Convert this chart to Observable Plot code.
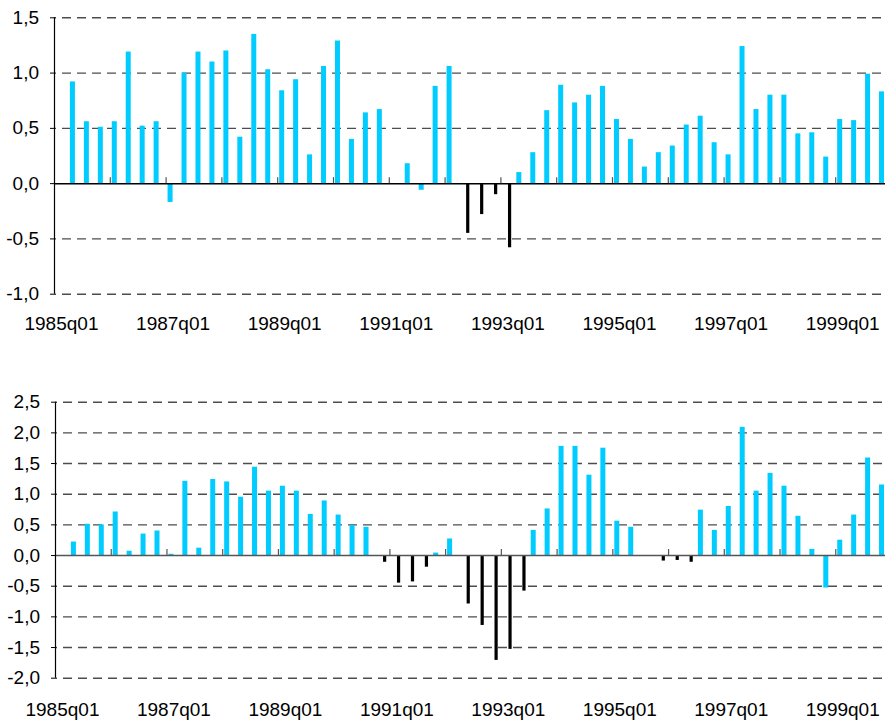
<!DOCTYPE html>
<html>
<head>
<meta charset="utf-8">
<script src="https://cdn.jsdelivr.net/npm/d3@7"></script>
<script src="https://cdn.jsdelivr.net/npm/@observablehq/plot@0.6"></script>
<style>
  html, body { margin: 0; padding: 0; background: #fff; overflow: hidden; width: 885px; height: 720px; }
  .panel { width: 885px; overflow: hidden; }
  .panel svg { display: block; max-width: none !important; }
</style>
</head>
<body>
<div id="top" class="panel"></div>
<div id="bottom" class="panel"></div>
<script>
// ---- categories ----
const years = [1985,1986,1987,1988,1989,1990,1991,1992,1993,1994,1995,1996,1997,1998,1999];
const quarterSuffix = ["q01","q02","q03","q04"];
const quarters = years.flatMap(y => quarterSuffix.map(s => `${y}${s}`));
const labelTicks = ["1985q01","1987q01","1989q01","1991q01","1993q01","1995q01","1997q01","1999q01"];
const boundaryTicks = ["1986q01","1987q01","1988q01","1989q01","1990q01","1991q01","1992q01","1993q01","1994q01","1995q01","1996q01","1997q01","1998q01","1999q01"];

// ---- top panel series ----
const topBlue = [null,0.92,0.56,0.51,0.56,1.19,0.52,0.56,-0.17,1.00,
  1.19,1.10,1.20,0.42,1.35,1.03,0.84,0.94,0.26,1.06,
  1.29,0.40,0.64,0.67,null,0.18,-0.06,0.88,1.06,null,
  null,null,null,0.10,0.28,0.66,0.89,0.73,0.80,0.88,
  0.58,0.40,0.15,0.28,0.34,0.53,0.61,0.37,0.26,1.24,
  0.67,0.80,0.80,0.45,0.46,0.24,0.58,0.57,0.99,0.83];
const topBlack = [null,null,null,null,null,null,null,null,null,null,
  null,null,null,null,null,null,null,null,null,null,
  null,null,null,null,null,null,null,null,null,-0.45,
  -0.28,-0.10,-0.58,null,null,null,null,null,null,null,
  null,null,null,null,null,null,null,null,null,null,
  null,null,null,null,null,null,null,null,null,null];
const topTicks = [-1.0,-0.5,0,0.5,1.0,1.5];

// ---- bottom panel series ----
const botBlue = [null,0.22,0.51,0.50,0.71,0.07,0.35,0.40,0.02,1.21,
  0.12,1.24,1.20,0.95,1.44,1.05,1.13,1.05,0.67,0.89,
  0.66,0.49,0.46,null,null,null,null,0.04,0.27,null,
  null,null,null,null,0.41,0.76,1.78,1.78,1.31,1.75,
  0.56,0.46,null,null,null,null,0.74,0.41,0.80,2.09,
  1.05,1.34,1.13,0.64,0.10,-0.53,0.25,0.66,1.59,1.15];
const botBlack = [null,null,null,null,null,null,null,null,null,null,
  null,null,null,null,null,null,null,null,null,null,
  null,null,null,-0.11,-0.45,-0.43,-0.19,null,null,-0.79,
  -1.14,-1.71,-1.53,-0.58,null,null,null,null,null,null,
  null,null,null,-0.09,-0.08,-0.11,null,null,null,null,
  null,null,null,null,null,null,null,null,null,null];
const botTicks = [-2.0,-1.5,-1.0,-0.5,0,0.5,1.0,1.5,2.0,2.5];

const W = 891;
const FONT = "'Liberation Sans', Arial, Helvetica, sans-serif";
const BLUE = "#00CCFF";

function panel({blue, black, ticks, height, mt, mb, ml, labelPad, zeroColor}) {
  const rows = quarters.map((q, i) => ({q, blue: blue[i], black: black[i]}));
  const blueRows = rows.filter(d => d.blue != null);
  const blackRows = rows.filter(d => d.black != null);
  const bw = (W - ml) / quarters.length;
  const fmt = d => d.toFixed(1).replace(".", ",");
  return Plot.plot({
    width: W,
    height,
    marginTop: mt,
    marginBottom: mb,
    marginLeft: ml,
    marginRight: 0,
    style: {fontFamily: FONT, fontSize: "19px", color: "#000", background: "#fff"},
    x: {type: "band", domain: quarters, padding: 0, axis: null, label: null},
    y: {domain: [ticks[0], ticks[ticks.length - 1]], axis: null, label: null},
    marks: [
      Plot.ruleY(ticks.filter(t => t !== 0), {stroke: "#4d4d4d", strokeWidth: 1.4, strokeDasharray: "9,6", strokeDashoffset: 7}),
      Plot.barY(blueRows, {x: "q", y: "blue", fill: BLUE, insetLeft: bw / 2 - 5, insetRight: bw / 2}),
      Plot.barY(blackRows, {x: "q", y: "black", fill: "#000", insetLeft: bw / 2 + 0.6, insetRight: bw / 2 - 3.8}),
      Plot.ruleY([0], {stroke: zeroColor, strokeWidth: 1.5}),
      Plot.ruleX(boundaryTicks, {x: d => d, dx: -bw / 2, y1: 0, y2: 0, insetBottom: 6, stroke: "#555", strokeWidth: 1.2}),
      Plot.ruleX([quarters[0]], {x: d => d, dx: -bw / 2, stroke: "#000", strokeWidth: 1.2}),
      Plot.axisY({ticks, tickFormat: fmt, tickSize: 4, tickPadding: 11.5, fontSize: 19, stroke: "#000", label: null}),
      Plot.axisX({ticks: labelTicks, tickSize: 0, tickPadding: labelPad, fontSize: 19, label: null})
    ]
  });
}

document.getElementById("top").append(panel({
  blue: topBlue, black: topBlack, ticks: topTicks,
  height: 360, mt: 17.3, mb: 66.3, ml: 54, labelPad: 22.6, zeroColor: "#000"
}));
document.getElementById("bottom").append(panel({
  blue: botBlue, black: botBlack, ticks: botTicks,
  height: 360, mt: 41.7, mb: 42.3, ml: 55, labelPad: 23.9, zeroColor: "#555"
}));
</script>
</body>
</html>
